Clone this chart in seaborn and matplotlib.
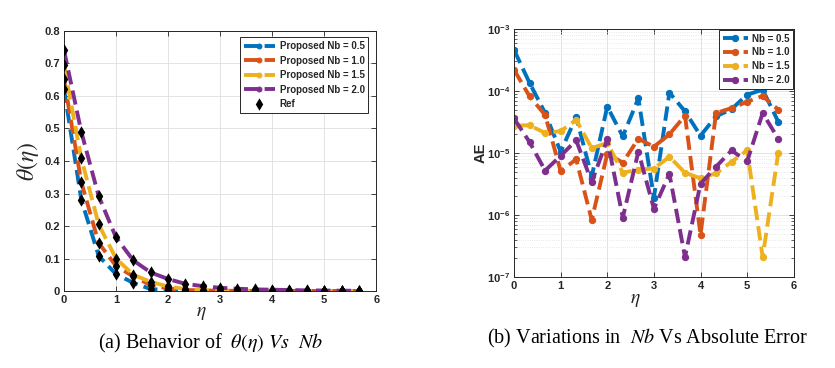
import numpy as np
import pandas as pd
import matplotlib
matplotlib.use('Agg')
import matplotlib.pyplot as plt
import seaborn as sns
from matplotlib.ticker import NullFormatter, LogLocator

sns.set_theme(style='whitegrid')
plt.rcParams['font.family'] = ['Liberation Sans', 'DejaVu Sans']

#%% data
eta = [0.0, 0.333, 0.667, 1.0, 1.333, 1.667, 2.0, 2.333, 2.667, 3.0,
       3.333, 3.667, 4.0, 4.333, 4.667, 5.0, 5.333, 5.667]

theta_05 = [0.623, 0.281, 0.108, 0.052, 0.025, 0.006, 0.003, 0.001, 0.0005, 0.0003,
            0.0002, 0.0001, 0.0001, 0.0001, 0.0, 0.0, 0.0, 0.0]
theta_10 = [0.652, 0.335, 0.148, 0.077, 0.045, 0.018, 0.008, 0.003, 0.0015, 0.0008,
            0.0004, 0.0002, 0.0001, 0.0001, 0.0001, 0.0, 0.0, 0.0]
theta_15 = [0.695, 0.408, 0.205, 0.100, 0.050, 0.028, 0.014, 0.006, 0.003, 0.0015,
            0.0008, 0.0004, 0.0002, 0.0001, 0.0001, 0.0001, 0.0, 0.0]
theta_20 = [0.741, 0.490, 0.292, 0.165, 0.094, 0.057, 0.037, 0.022, 0.015, 0.010,
            0.007, 0.005, 0.004, 0.003, 0.002, 0.0015, 0.001, 0.0008]

ae_05 = [4.6e-4, 1.35e-4, 4.4e-5, 1.05e-5, 3.8e-5, 4.2e-6, 5.6e-5, 1.85e-5, 7.6e-5, 1.9e-6,
         9.4e-5, 4.7e-5, 1.9e-5, 3.9e-5, 5.1e-5, 8.7e-5, 1.05e-4, 3.2e-5]
ae_10 = [2.2e-4, 8.2e-5, 4.1e-5, 5.1e-6, 7.9e-6, 8.3e-7, 9.7e-6, 7.0e-6, 1.7e-5, 1.26e-5,
         2.0e-5, 4.0e-5, 4.8e-7, 4.4e-5, 5.3e-5, 6.7e-5, 8.3e-5, 5.0e-5]
ae_15 = [2.75e-5, 2.8e-5, 2.1e-5, 2.25e-5, 3.4e-5, 1.2e-5, 1.45e-5, 4.8e-6, 5.4e-6, 5.6e-6,
         8.7e-6, 4.8e-6, 3.9e-6, 4.7e-6, 7.2e-6, 1.1e-5, 2.1e-7, 1.0e-5]
ae_20 = [3.6e-5, 1.5e-5, 5.2e-6, 9.0e-6, 1.6e-5, 3.4e-6, 1.65e-5, 9.1e-7, 1.05e-5, 1.26e-6,
         4.6e-6, 2.1e-7, 3.2e-6, 6.0e-6, 1.1e-5, 7.3e-6, 4.4e-5, 1.7e-5]

nb_labels = ['0.5', '1.0', '1.5', '2.0']
colors = ['#0072BD', '#D95319', '#EDB120', '#7E2F8E']
x_ticks = [0, 1, 2, 3, 4, 5, 6]
theta_ticks = [0, 0.1, 0.2, 0.3, 0.4, 0.5, 0.6, 0.7, 0.8]
theta_ticklabels = ['0', '0.1', '0.2', '0.3', '0.4', '0.5', '0.6', '0.7', '0.8']
ae_ticks = [1e-7, 1e-6, 1e-5, 1e-4, 1e-3]

df_theta = pd.DataFrame({
    'eta': eta * 4,
    'theta': theta_05 + theta_10 + theta_15 + theta_20,
    'Nb': sum([[n] * len(eta) for n in nb_labels], []),
})
df_ae = pd.DataFrame({
    'eta': eta * 4,
    'ae': ae_05 + ae_10 + ae_15 + ae_20,
    'Nb': sum([[n] * len(eta) for n in nb_labels], []),
})

#%% figure
fig = plt.figure(figsize=(8.35, 3.68), dpi=100)
ax1 = fig.add_axes([0.0766, 0.2092, 0.374, 0.7066])
ax2 = fig.add_axes([0.6156, 0.2473, 0.335, 0.674])
edge = '#262626'
leg_font = {'weight': 'bold', 'size': 7}

def style_axes(ax):
    for s in ax.spines.values():
        s.set_visible(True)
        s.set_color(edge)
        s.set_linewidth(0.7)
    ax.tick_params(which='both', direction='in', top=True, right=True,
                   bottom=True, left=True, color=edge, labelcolor=edge,
                   labelsize=8, pad=3)
    ax.tick_params(which='major', length=3.5, width=0.6)
    ax.grid(True, which='major', color='#dedede', lw=0.6)
    plt.setp(ax.get_xticklabels() + ax.get_yticklabels(), fontweight='bold')

# left: theta
for n, c in zip(nb_labels, colors):
    sub = df_theta[df_theta.Nb == n]
    sns.lineplot(data=sub, x='eta', y='theta', color=c, lw=2.8, ls='--',
                 marker='o', ms=3.5, mec=c, estimator=None, sort=False,
                 label=f'Proposed Nb = {n}', ax=ax1)
sns.scatterplot(data=df_theta, x='eta', y='theta', marker='d', color='black',
                s=40, edgecolor='black', linewidth=0, zorder=5, label='Ref', ax=ax1)
ax1.set_xlim(0, 6)
ax1.set_ylim(0, 0.8)
ax1.set_xticks(x_ticks)
ax1.set_yticks(theta_ticks, theta_ticklabels)
style_axes(ax1)
ax1.set_xlabel(r'$\eta$', fontsize=14, math_fontfamily='stix')
ax1.set_ylabel(r'$\theta\left(\eta\right)$', fontsize=17, math_fontfamily='stix')
ax1.xaxis.set_label_coords(0.44, -0.055)
ax1.yaxis.set_label_coords(-0.075, 0.5)
leg1 = ax1.legend(loc='upper right', bbox_to_anchor=(0.975, 0.975), borderaxespad=0,
                  prop=leg_font, handlelength=3.2, labelspacing=0.45, fancybox=False,
                  framealpha=1, edgecolor=edge, borderpad=0.4, handletextpad=0.5)
leg1.get_frame().set_linewidth(0.7)

# right: absolute error
ax2.set_yscale('log')
for n, c in zip(nb_labels, colors):
    sub = df_ae[df_ae.Nb == n]
    sns.lineplot(data=sub, x='eta', y='ae', color=c, lw=2.8, ls='--',
                 marker='o', ms=4.5, mec=c, estimator=None, sort=False,
                 label=f'Nb = {n}', ax=ax2)
ax2.set_xlim(0, 6)
ax2.set_ylim(1e-7, 1e-3)
ax2.set_xticks(x_ticks)
ax2.set_yticks(ae_ticks)
ax2.yaxis.set_minor_locator(LogLocator(base=10, subs=np.arange(2, 10), numticks=50))
ax2.yaxis.set_minor_formatter(NullFormatter())
style_axes(ax2)
ax2.tick_params(which='minor', length=2, width=0.5)
ax2.grid(True, which='minor', axis='y', color='#e2e2e2', ls=':', lw=0.6)
ax2.set_xlabel(r'$\eta$', fontsize=14, math_fontfamily='stix')
ax2.set_ylabel('AE', fontsize=10.5, fontweight='bold')
ax2.xaxis.set_label_coords(0.432, -0.06)
ax2.yaxis.set_label_coords(-0.095, 0.5)
leg2 = ax2.legend(loc='upper right', bbox_to_anchor=(0.997, 0.995), borderaxespad=0,
                  prop=leg_font, handlelength=2.6, labelspacing=0.4, fancybox=False,
                  framealpha=1, edgecolor=edge, borderpad=0.35, handletextpad=0.4)
leg2.get_frame().set_linewidth(0.7)

# captions
fig.text(211 / 835, 1 - 343 / 368, r'(a) Behavior of  $\theta\left(\eta\right)\ Vs\ \ Nb$',
         ha='center', va='center', fontsize=14.5,
         family='Liberation Serif', math_fontfamily='stix', color='black')
fig.text(647 / 835, 1 - 338 / 368, r'(b) Variations in  $Nb$ Vs Absolute Error',
         ha='center', va='center', fontsize=14.5,
         family='Liberation Serif', math_fontfamily='stix', color='black')

fig.savefig('out.png', dpi=100)
